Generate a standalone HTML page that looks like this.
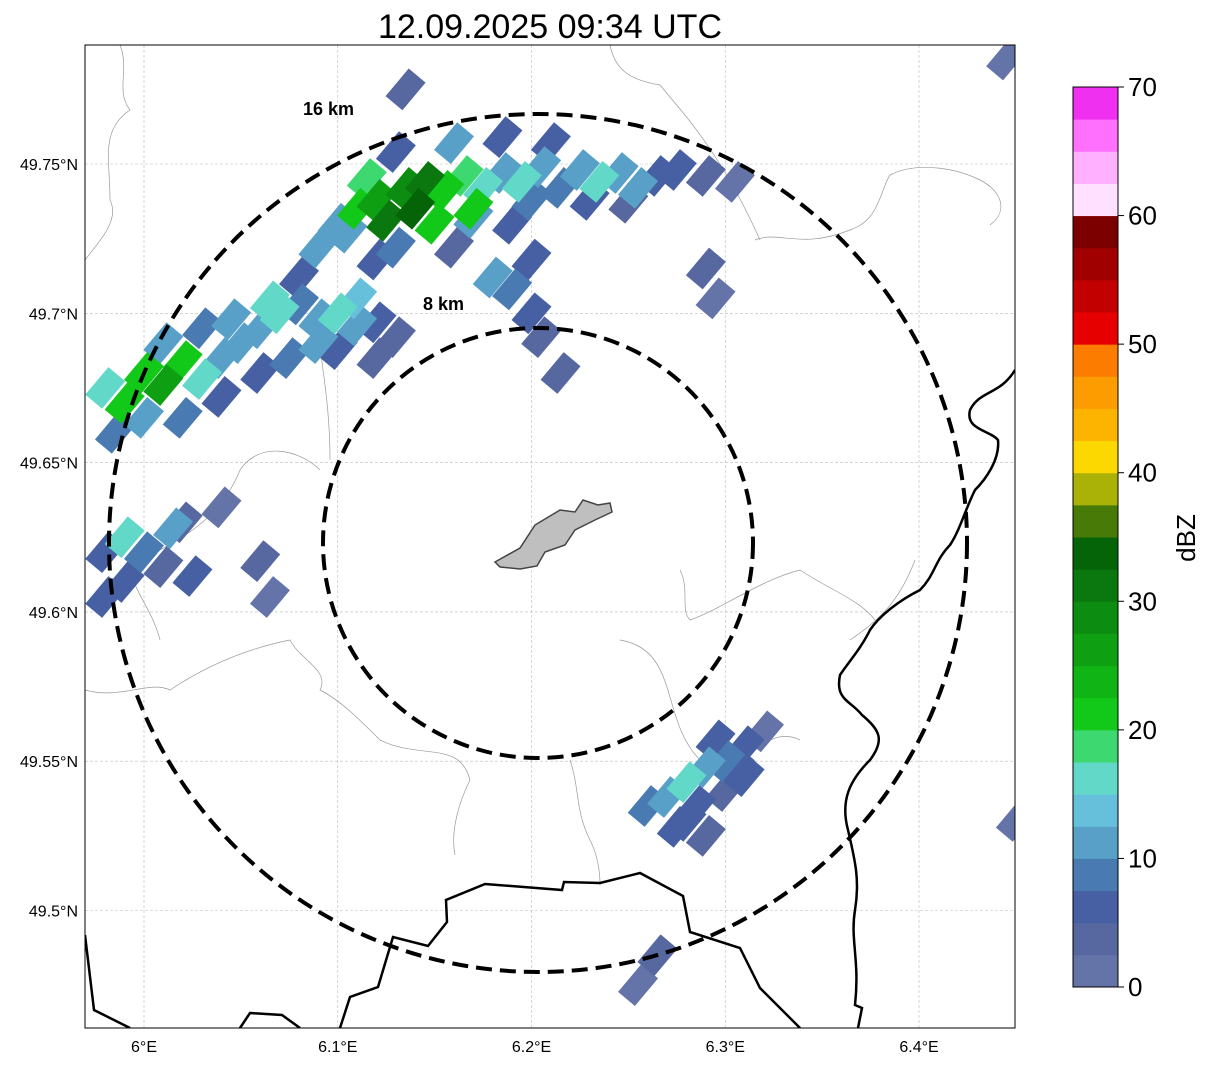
<!DOCTYPE html>
<html><head><meta charset="utf-8"><style>
body{margin:0;background:#fff;font-family:"Liberation Sans",sans-serif}
svg text{font-family:"Liberation Sans",sans-serif}
</style></head><body>
<svg id="s" width="1207" height="1064" xmlns="http://www.w3.org/2000/svg">
<defs><clipPath id="pc"><rect x="85" y="45" width="930" height="983"/></clipPath></defs>
<text x="550" y="38" font-size="34" text-anchor="middle">12.09.2025 09:34 UTC</text>
<g id="grid"></g>
<g clip-path="url(#pc)">
<g id="thin" fill="none" stroke="#999" stroke-width="0.7">
<path d="M120,45 C130,70 115,90 130,110 C100,130 110,160 110,200 C120,220 100,240 85,260"/>
<path d="M85,690 C120,700 150,680 170,690 C200,670 240,650 290,640 C300,660 330,670 320,690 C340,700 360,720 380,740 C420,760 460,740 470,780 C460,800 450,830 455,855"/>
<path d="M570,760 C580,790 575,810 590,840 C600,860 600,880 600,885"/>
<path d="M160,640 C150,600 120,580 140,560 C180,540 220,520 240,470 C260,440 300,450 320,470"/>
<path d="M330,460 C330,400 320,360 320,340"/>
<path d="M680,570 C690,590 680,610 690,620 C720,610 760,580 800,570 C830,590 860,600 875,620"/>
<path d="M755,240 C780,230 800,250 850,230 C880,220 880,190 890,175 C920,160 960,170 980,180 C1000,190 1010,210 990,225"/>
<path d="M610,45 C615,70 630,80 660,85 C680,110 720,150 760,240"/>
<path d="M620,640 C680,650 660,720 700,760 C740,790 760,720 800,740"/>
<path d="M850,640 C880,620 900,600 915,560"/>
</g>
<g id="echoes"></g>
<g fill="none" stroke="#000" stroke-width="2.5">
<path d="M1015,370 C1000,395 980,390 970,410 C965,430 990,430 998,440 C1000,460 985,480 975,490 C965,510 960,530 950,545 C935,560 935,575 920,590 C900,600 880,615 870,630 C860,650 850,660 840,675 C835,700 850,700 862,715 C880,730 885,740 870,760 C850,780 840,800 848,830 C855,860 860,880 855,910 C850,940 860,960 855,1005 L862,1008 L858,1028"/>
<path d="M340,1028 L350,997 L378,987 L393,937 L428,946 L447,922 L446,900 L485,884 L562,890 L564,882 L600,883 L640,873 L683,896 L690,932 L740,948 L760,988 L800,1028"/>
<path d="M85,935 L94,1010 L130,1028"/>
<path d="M240,1028 L250,1013 L282,1015 L300,1028"/>
</g>
</g>
<path d="M495,562 L520,548 L535,525 L560,510 L575,512 L583,500 L598,505 L610,503 L612,512 L595,520 L575,530 L565,545 L545,552 L537,566 L520,569 L500,567 Z" fill="#bfbfbf" stroke="#444" stroke-width="1.5"/>
<circle cx="538" cy="543" r="215" fill="none" stroke="#000" stroke-width="4" stroke-dasharray="16,8"/>
<circle cx="538" cy="543" r="429" fill="none" stroke="#000" stroke-width="4" stroke-dasharray="16,8"/>
<text x="423" y="310" font-size="18" font-weight="bold">8 km</text>
<text x="303" y="115" font-size="18" font-weight="bold">16 km</text>
<rect x="85" y="45" width="930" height="983" fill="none" stroke="#000" stroke-width="1"/>
<g id="axes"></g>
<g id="cbar"></g>
<text transform="translate(1195,538) rotate(-90)" font-size="26" text-anchor="middle">dBZ</text>
</svg>
<script>
const lonTicks=[6.0,6.1,6.2,6.3,6.4];
const latTicks=[49.75,49.7,49.65,49.6,49.55,49.5];
const lonLabels=["6°E","6.1°E","6.2°E","6.3°E","6.4°E"];
const latLabels=["49.75°N","49.7°N","49.65°N","49.6°N","49.55°N","49.5°N"];
const cbColors=["#6574a8","#5767a0","#4660a3","#4a7ab2","#58a0c8","#66c0dc","#62d8c8","#3ed870","#12c818","#10b414","#0ea012","#0c8c10","#0a780e","#066408","#487a08","#aab208","#fcd800","#fcb400","#fc9c00","#fc7c00","#e60000","#c20000","#a00000","#7c0000","#ffe0ff","#ffb0ff","#ff70ff","#f030f0"];
const cbTicks=[0,10,20,30,40,50,60,70];
const cellLon=[6.10,6.11,6.12,6.125,6.135,6.145,6.155,6.165,6.175,6.185,6.195,6.205,6.215,6.225,6.235,6.245,6.255,6.265,6.275,6.29,6.305,6.09,6.13,6.15,6.17,6.19,6.16,6.12,6.20,6.19,6.2,6.18,6.13,6.16,6.185,6.21,6.14,6.17,6.115,6.105,6.2,6.23,6.25,
5.98,5.99,6.0,6.01,6.02,6.03,6.04,6.05,6.06,6.07,6.08,6.09,6.1,6.11,6.12,6.13,6.0,6.02,6.04,6.06,6.075,6.1,6.01,6.03,6.08,6.12,5.985,6.045,6.065,6.09,6.11,
5.98,5.99,6.0,6.01,5.98,6.02,6.04,5.99,6.015,6.025,
6.26,6.27,6.28,6.29,6.3,6.31,6.285,6.3,6.31,6.275,6.295,6.32,6.29,6.305,6.28,
6.065,6.06,6.265,6.255,6.29,6.295,6.215,6.205,6.445,6.45,6.135];
const cellLat=[49.73,49.735,49.738,49.731,49.742,49.744,49.741,49.746,49.742,49.747,49.744,49.749,49.742,49.748,49.744,49.747,49.742,49.746,49.748,49.746,49.744,49.722,49.722,49.73,49.732,49.73,49.722,49.718,49.718,49.708,49.7,49.712,49.754,49.757,49.759,49.757,49.735,49.735,49.745,49.727,49.738,49.738,49.737,
49.675,49.67,49.68,49.676,49.684,49.678,49.685,49.69,49.695,49.7,49.703,49.698,49.7,49.696,49.697,49.692,49.665,49.665,49.672,49.68,49.685,49.688,49.69,49.695,49.712,49.685,49.66,49.698,49.704,49.69,49.705,
49.62,49.625,49.62,49.615,49.605,49.63,49.635,49.61,49.628,49.612,
49.535,49.538,49.543,49.548,49.55,49.555,49.535,49.54,49.545,49.528,49.557,49.56,49.525,49.548,49.53,
49.605,49.617,49.485,49.475,49.715,49.705,49.68,49.692,49.785,49.53,49.775];
const cellDbz=[12,20,25,30,28,30,22,18,15,12,15,10,8,12,15,10,12,6,5,3,2,10,8,20,10,5,4,6,5,8,5,12,6,10,5,6,33,22,18,12,8,6,4,
15,22,20,25,22,15,12,10,12,15,8,12,15,10,6,4,12,8,6,5,8,5,10,8,6,3,8,12,15,10,14,
5,15,8,4,6,3,2,7,10,6,
8,12,15,10,8,5,6,4,5,7,6,2,3,6,5,
2,3,3,2,3,2,3,3,2,2,3];
const NS="http://www.w3.org/2000/svg";
const X=lon=>144+(lon-6.0)*1937.5;
const Y=lat=>164-(lat-49.75)*2986;
const cbY=v=>987-v*900/70;
function mk(t,a,p){const e=document.createElementNS(NS,t);for(const k in a)e.setAttribute(k,a[k]);(p||document.getElementById('s')).appendChild(e);return e;}
const grid=document.getElementById('grid'),axes=document.getElementById('axes');
lonTicks.forEach((v,i)=>{const l=mk('line',{x1:X(v),x2:X(v),y1:45,y2:1028,stroke:'#bbb','stroke-width':0.6,'stroke-dasharray':'3,2'},grid);


const t=mk('text',{x:X(v),y:1052,'font-size':16,'text-anchor':'middle'},axes);t.textContent=lonLabels[i];

});
latTicks.forEach((v,i)=>{const l=mk('line',{x1:85,x2:1015,y1:Y(v),y2:Y(v),stroke:'#bbb','stroke-width':0.6,'stroke-dasharray':'3,2'},grid);


const t=mk('text',{x:78,y:Y(v)+6,'font-size':16,'text-anchor':'end'},axes);t.textContent=latLabels[i];

});
const eg=document.getElementById('echoes');
const order=cellDbz.map((d,i)=>i).sort((a,b)=>cellDbz[a]-cellDbz[b]);
order.forEach(i=>{const x=X(cellLon[i]),y=Y(cellLat[i]);const c=cbColors[Math.min(27,Math.floor(cellDbz[i]/2.5))];
const r=mk('rect',{x:x-11,y:y-18,width:22,height:36,fill:c,transform:`rotate(40 ${x} ${y})`},eg);

});
const cb=document.getElementById('cbar');
cbColors.forEach((c,i)=>{const r=mk('rect',{x:1073,y:cbY((i+1)*2.5),width:45,height:900/28+0.5,fill:c},cb);

});
mk('rect',{x:1073,y:87,width:45,height:900,fill:'none',stroke:'#000','stroke-width':1},cb);
cbTicks.forEach(v=>{mk('line',{x1:1118,x2:1124,y1:cbY(v),y2:cbY(v),stroke:'#000'},cb);
const t=mk('text',{x:1128,y:cbY(v)+9,'font-size':26},cb);t.textContent=v;

});
</script>
</body></html>
